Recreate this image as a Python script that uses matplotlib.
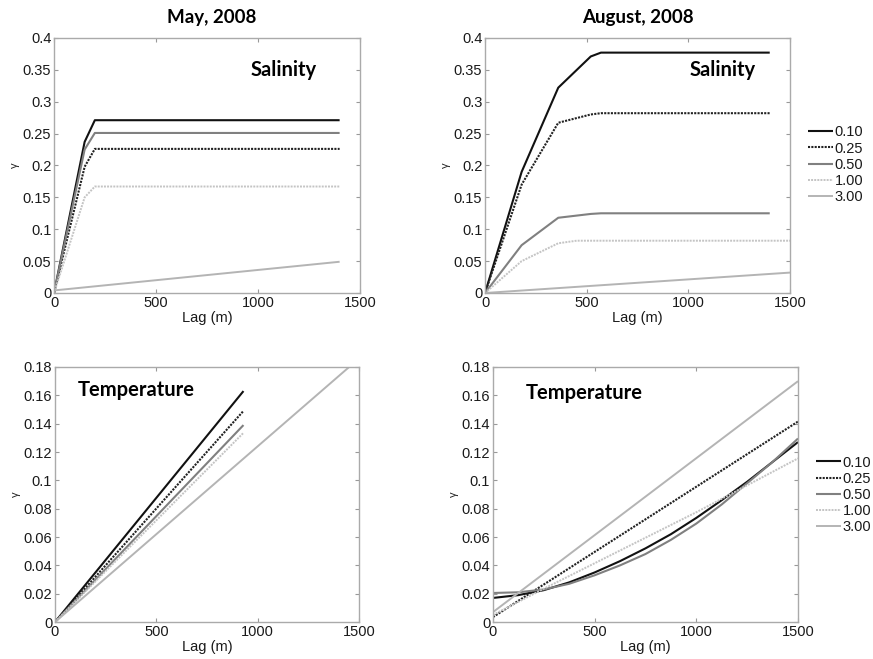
import numpy as np
import matplotlib
matplotlib.use('Agg')
import matplotlib.pyplot as plt

plt.rcParams['font.family'] = ['Liberation Sans', 'DejaVu Sans']

# legend labels (shared by all four panels)
labels = ['0.10', '0.25', '0.50', '1.00', '3.00']

# --- May 2008, salinity
may_sal_x = [[0, 150, 200, 1400],
             [0, 150, 200, 1400],
             [0, 150, 200, 1400],
             [0, 150, 200, 1400],
             [0, 1400]]
may_sal_y = [[0.0, 0.237, 0.271, 0.271],
             [0.0, 0.198, 0.226, 0.226],
             [0.0, 0.225, 0.251, 0.251],
             [0.0, 0.150, 0.167, 0.167],
             [0.004, 0.049]]

# --- August 2008, salinity
aug_sal_x = [[0, 180, 360, 520, 570, 1400],
             [0, 180, 360, 520, 570, 1400],
             [0, 180, 360, 520, 570, 1400],
             [0, 180, 360, 450, 1500],
             [0, 1500]]
aug_sal_y = [[0.0, 0.19, 0.322, 0.371, 0.377, 0.377],
             [0.0, 0.17, 0.267, 0.280, 0.282, 0.282],
             [0.0, 0.075, 0.118, 0.124, 0.125, 0.125],
             [0.0, 0.050, 0.078, 0.082, 0.082],
             [0.0, 0.032]]

# --- May 2008, temperature
may_tmp_x = [[0, 930], [0, 930], [0, 930], [0, 930], [0, 1500]]
may_tmp_y = [[0.0, 0.163], [0.0, 0.149], [0.0, 0.139], [0.0, 0.1335], [0.0, 0.186]]

# --- August 2008, temperature
aug_lag = [0, 125, 250, 375, 500, 625, 750, 875, 1000, 1125, 1250, 1375, 1500]
aug_tmp_x = [aug_lag, [0, 1500], aug_lag, [0, 250, 500, 750, 1000, 1250, 1500], [0, 1500]]
aug_tmp_y = [[0.017, 0.019, 0.0225, 0.028, 0.035, 0.043, 0.052, 0.062, 0.0735, 0.086, 0.099, 0.113, 0.127],
             [0.0035, 0.1415],
             [0.0205, 0.021, 0.023, 0.027, 0.033, 0.040, 0.048, 0.058, 0.0695, 0.083, 0.098, 0.113, 0.1295],
             [0.005, 0.0235, 0.0415, 0.0595, 0.0775, 0.0965, 0.1155],
             [0.007, 0.170]]

styles = [dict(color='#111111', ls='-', lw=1.5),
          dict(color='#222222', ls=(0, (1, 0.6)), lw=1.5),
          dict(color='#808080', ls='-', lw=1.5),
          dict(color='#c4c4c4', ls=(0, (1, 0.6)), lw=1.4),
          dict(color='#b4b4b4', ls='-', lw=1.4)]

fig = plt.figure(figsize=(8.73, 6.59), dpi=100)

panels = [
    ([0.0619, 0.5554, 0.3505, 0.387], may_sal_x, may_sal_y, 0.4, 0.05),
    ([0.5556, 0.5554, 0.3494, 0.387], aug_sal_x, aug_sal_y, 0.4, 0.05),
    ([0.0630, 0.0561, 0.3482, 0.387], may_tmp_x, may_tmp_y, 0.18, 0.02),
    ([0.5647, 0.0561, 0.3494, 0.387], aug_tmp_x, aug_tmp_y, 0.18, 0.02),
]

axes = []
for rect, xs, ys, ymax, ystep in panels:
    ax = fig.add_axes(rect)
    lines = []
    for x, y, st in zip(xs, ys, styles):
        ln, = ax.plot(x, y, solid_capstyle='butt', dash_capstyle='butt', **st)
        lines.append(ln)
    ax.set_xlim(0, 1500)
    ax.set_ylim(0, ymax)
    ax.set_xticks([0, 500, 1000, 1500])
    yt = np.round(np.arange(0, ymax + ystep / 2, ystep), 3)
    ax.set_yticks(yt)
    ax.set_yticklabels(['%g' % v for v in yt])
    ax.tick_params(direction='in', length=3, width=0.8, color='#999999',
                   top=True, right=True, labelsize=10.5, labelcolor='#1a1a1a', pad=2)
    for s in ax.spines.values():
        s.set_color('#aaaaaa')
        s.set_linewidth(1.0)
    ax.set_xlabel('Lag (m)', fontsize=10.5, color='#1a1a1a', labelpad=1)
    ax.set_ylabel('γ', fontsize=8, color='#222222', labelpad=2)
    axes.append((ax, lines))

ax_tl, ax_tr, ax_bl, ax_br = [a for a, _ in axes]

title_kw = dict(family=['Lato', 'DejaVu Sans'], fontweight='bold', fontsize=13.5, ha='center', va='center')
fig.text(212 / 873, 1 - 18 / 659, 'May, 2008', **title_kw)
fig.text(638 / 873, 1 - 18 / 659, 'August, 2008', **title_kw)

lab_kw = dict(family=['Lato', 'DejaVu Sans'], fontweight='bold', fontsize=14.5, ha='center', va='center')
ax_tl.text(1125, 0.349, 'Salinity', **lab_kw)
ax_tr.text(1170, 0.349, 'Salinity', **lab_kw)
ax_bl.text(400, 0.1635, 'Temperature', **lab_kw)
ax_br.text(450, 0.1615, 'Temperature', **lab_kw)

for ax, lines, anchor in [(ax_tr, axes[1][1], (0.926, 0.750)), (ax_br, axes[3][1], (0.935, 0.249))]:
    fig.legend(lines, labels, loc='center left', bbox_to_anchor=anchor, frameon=False,
               fontsize=10.5, handlelength=1.7, handletextpad=0.1, labelspacing=0.15,
               borderpad=0, borderaxespad=0, labelcolor='#1a1a1a')

fig.savefig('out.png', dpi=100)
